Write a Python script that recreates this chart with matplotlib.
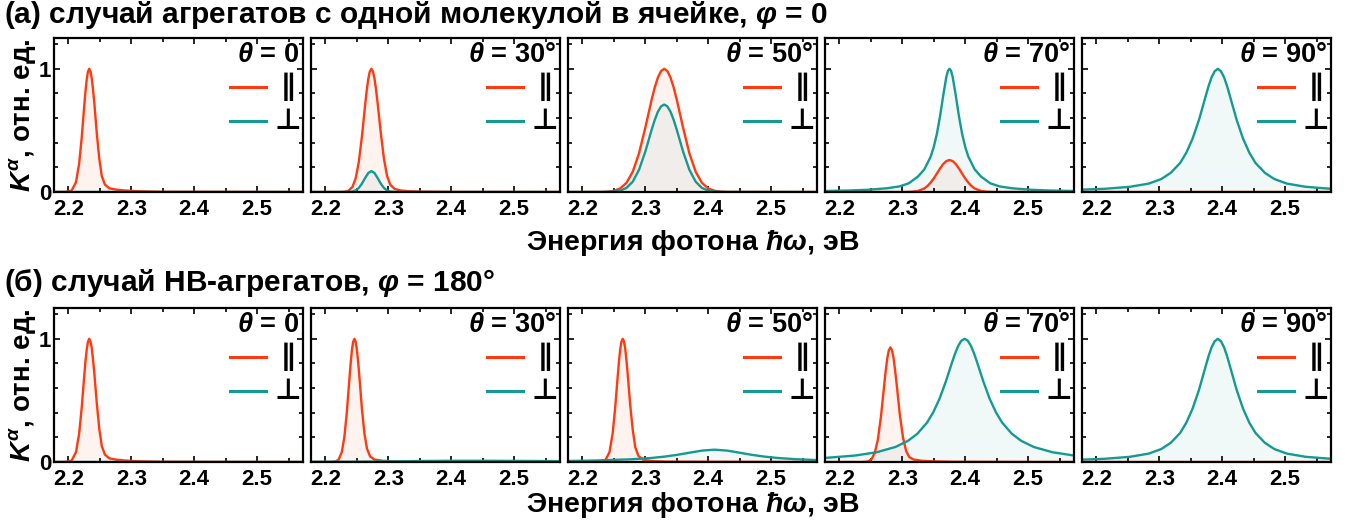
import matplotlib
matplotlib.use("Agg")
import matplotlib.pyplot as plt
from matplotlib.ticker import MultipleLocator, FixedLocator

# Fonts: bold Arial-like text, bold-italic greek symbols through mathtext
plt.rcParams['font.family'] = ['Liberation Sans', 'DejaVu Sans']
plt.rcParams['font.weight'] = 'bold'
plt.rcParams['mathtext.fontset'] = 'custom'
plt.rcParams['mathtext.rm'] = 'Liberation Sans:bold'
plt.rcParams['mathtext.it'] = 'Liberation Sans:bold:italic'
plt.rcParams['mathtext.bf'] = 'Liberation Sans:bold'

PAR_COLOR = '#ff3a10'
PERP_COLOR = '#159a92'

# Panel labels and row headers
theta_labels = ['0', '30°', '50°', '70°', '90°']
row_titles = [r'(a) случай агрегатов с одной молекулой в ячейке, $\varphi$ = 0',
              r'(б) случай НВ-агрегатов, $\varphi$ = 180°']

# Spectra K(E), E in eV. Flat zero spectra:
E_zero = [2.177, 2.573]
K_zero = [0.0, 0.0]

# theta = 0, parallel (same for both aggregate types)
E_t0_par = [2.177, 2.195, 2.205, 2.212, 2.217, 2.221, 2.225, 2.227, 2.229, 2.231, 2.233, 2.235,
            2.237, 2.239, 2.241, 2.245, 2.249, 2.253, 2.258, 2.265, 2.275, 2.29, 2.31, 2.35, 2.573]
K_t0_par = [0.0, 0.001, 0.011, 0.080, 0.231, 0.438, 0.693, 0.814, 0.912, 0.977, 1.0, 0.98,
            0.925, 0.835, 0.73, 0.48, 0.27, 0.13, 0.06, 0.03, 0.02, 0.012, 0.006, 0.002, 0.0]

# (a) theta = 30
E_a30_par = [2.177, 2.22, 2.228, 2.236, 2.243, 2.248, 2.253, 2.258, 2.263, 2.2655, 2.268, 2.2705,
             2.273, 2.2755, 2.278, 2.2805, 2.283, 2.288, 2.293, 2.298, 2.303, 2.31, 2.32, 2.333,
             2.353, 2.40, 2.573]
K_a30_par = [0.0, 0.0, 0.0008, 0.008, 0.042, 0.110, 0.243, 0.451, 0.702, 0.82, 0.915, 0.978,
             1.0, 0.98, 0.92, 0.83, 0.72, 0.48, 0.27, 0.13, 0.06, 0.025, 0.012, 0.006,
             0.003, 0.001, 0.0]
E_a30_perp = [2.177, 2.233, 2.243, 2.248, 2.253, 2.258, 2.263, 2.268, 2.273, 2.278, 2.283,
              2.288, 2.293, 2.298, 2.303, 2.313, 2.573]
K_a30_perp = [0.0, 0.0, 0.004, 0.013, 0.033, 0.068, 0.113, 0.154, 0.17, 0.154, 0.113,
              0.068, 0.033, 0.013, 0.004, 0.0, 0.0]

# (a) theta = 50
E_a50 = [2.177, 2.23, 2.24, 2.25, 2.26, 2.27, 2.28, 2.29, 2.30, 2.31, 2.315, 2.32, 2.325, 2.33,
         2.335, 2.34, 2.345, 2.35, 2.36, 2.37, 2.38, 2.39, 2.40, 2.41, 2.42, 2.43, 2.573]
K_a50_par = [0.0, 0.0007, 0.0029, 0.0099, 0.029, 0.0745, 0.165, 0.315, 0.523, 0.749, 0.850,
             0.930, 0.982, 1.0, 0.982, 0.930, 0.850, 0.749, 0.523, 0.315, 0.165, 0.0745,
             0.029, 0.0099, 0.0029, 0.0007, 0.0]
K_a50_perp = [0.0, 0.0, 0.001, 0.003, 0.011, 0.033, 0.084, 0.181, 0.329, 0.505, 0.586,
              0.652, 0.695, 0.71, 0.695, 0.652, 0.586, 0.505, 0.329, 0.181, 0.084, 0.033,
              0.011, 0.003, 0.001, 0.0, 0.0]

# (a) theta = 70
E_a70_par = [2.177, 2.305, 2.315, 2.325, 2.335, 2.34, 2.345, 2.35, 2.355, 2.36, 2.365, 2.37,
             2.375, 2.38, 2.385, 2.39, 2.395, 2.40, 2.405, 2.41, 2.415, 2.425, 2.435, 2.445, 2.573]
K_a70_par = [0.0, 0.0, 0.0019, 0.0085, 0.029, 0.049, 0.076, 0.110, 0.150, 0.191, 0.227, 0.251,
             0.26, 0.251, 0.227, 0.191, 0.150, 0.110, 0.076, 0.049, 0.029, 0.0085, 0.0019, 0.0, 0.0]
E_a70_perp = [2.177, 2.215, 2.245, 2.275, 2.295, 2.31, 2.325, 2.335, 2.345, 2.35, 2.355, 2.36,
              2.365, 2.37, 2.3725, 2.375, 2.3775, 2.38, 2.385, 2.39, 2.395, 2.40, 2.405, 2.415,
              2.425, 2.44, 2.455, 2.475, 2.505, 2.535, 2.573]
K_a70_perp = [0.008, 0.012, 0.018, 0.03, 0.045, 0.07, 0.126, 0.184, 0.286, 0.366, 0.474, 0.616,
              0.783, 0.935, 0.983, 1.0, 0.983, 0.935, 0.783, 0.616, 0.474, 0.366, 0.286, 0.184,
              0.126, 0.07, 0.045, 0.03, 0.018, 0.012, 0.008]

# theta = 90, perpendicular (same for both aggregate types)
E_t90_perp = [2.177, 2.213, 2.253, 2.283, 2.303, 2.318, 2.333, 2.343, 2.353, 2.363, 2.368, 2.373,
              2.378, 2.383, 2.388, 2.393, 2.398, 2.403, 2.408, 2.413, 2.418, 2.423, 2.433, 2.443,
              2.453, 2.468, 2.483, 2.503, 2.533, 2.573]
K_t90_perp = [0.019, 0.026, 0.042, 0.068, 0.105, 0.155, 0.235, 0.32, 0.435, 0.585, 0.675, 0.765,
              0.855, 0.93, 0.98, 1.0, 0.98, 0.93, 0.855, 0.765, 0.675, 0.585, 0.435, 0.32,
              0.235, 0.155, 0.105, 0.068, 0.042, 0.026]

# (б) theta = 30
E_b30_par = [2.177, 2.21, 2.216, 2.221, 2.226, 2.230, 2.234, 2.236, 2.238, 2.240, 2.242, 2.244,
             2.246, 2.248, 2.25, 2.252, 2.254, 2.258, 2.262, 2.266, 2.271, 2.278, 2.291, 2.311,
             2.346, 2.573]
K_b30_par = [0.0, 0.0, 0.0035, 0.0197, 0.081, 0.2, 0.404, 0.54, 0.669, 0.797, 0.904, 0.975,
             1.0, 0.977, 0.91, 0.81, 0.69, 0.43, 0.23, 0.11, 0.045, 0.02, 0.01, 0.005,
             0.002, 0.0]
E_b30_perp = [2.177, 2.25, 2.30, 2.35, 2.40, 2.45, 2.50, 2.573]
K_b30_perp = [0.002, 0.003, 0.005, 0.008, 0.01, 0.01, 0.009, 0.007]

# (б) theta = 50
E_b50_par = [2.177, 2.225, 2.236, 2.243, 2.248, 2.252, 2.256, 2.258, 2.26, 2.262, 2.264, 2.266,
             2.268, 2.270, 2.272, 2.276, 2.28, 2.284, 2.289, 2.296, 2.309, 2.334, 2.573]
K_b50_par = [0.0, 0.0, 0.011, 0.080, 0.231, 0.438, 0.693, 0.814, 0.912, 0.977, 1.0, 0.98,
             0.92, 0.825, 0.71, 0.46, 0.26, 0.12, 0.05, 0.02, 0.008, 0.003, 0.0]
E_b50_perp = [2.177, 2.22, 2.28, 2.31, 2.33, 2.35, 2.37, 2.39, 2.41, 2.43, 2.45, 2.47, 2.49,
              2.51, 2.54, 2.573]
K_b50_perp = [0.0083, 0.0119, 0.0225, 0.0329, 0.0434, 0.0576, 0.0754, 0.0925, 0.1, 0.0925,
              0.0754, 0.0576, 0.0434, 0.0329, 0.0225, 0.0156]

# (б) theta = 70
E_b70_par = [2.177, 2.235, 2.241, 2.246, 2.251, 2.256, 2.261, 2.266, 2.271, 2.2735, 2.276,
             2.2785, 2.281, 2.2835, 2.286, 2.2885, 2.291, 2.296, 2.301, 2.306, 2.311, 2.318,
             2.331, 2.351, 2.381, 2.573]
K_b70_par = [0.0, 0.0, 0.001, 0.006, 0.023, 0.072, 0.180, 0.369, 0.618, 0.738, 0.840, 0.907,
             0.93, 0.908, 0.845, 0.745, 0.63, 0.385, 0.20, 0.09, 0.04, 0.02, 0.01, 0.005,
             0.002, 0.0]
E_b70_perp = [2.177, 2.225, 2.259, 2.289, 2.309, 2.324, 2.339, 2.349, 2.359, 2.369, 2.374, 2.379,
              2.384, 2.389, 2.394, 2.399, 2.404, 2.409, 2.414, 2.419, 2.424, 2.429, 2.439, 2.449,
              2.459, 2.474, 2.489, 2.509, 2.539, 2.573]
K_b70_perp = [0.033, 0.0526, 0.079, 0.122, 0.172, 0.230, 0.318, 0.402, 0.512, 0.651, 0.729, 0.808,
              0.882, 0.944, 0.985, 1.0, 0.985, 0.944, 0.882, 0.808, 0.729, 0.651, 0.512, 0.402,
              0.318, 0.230, 0.172, 0.122, 0.079, 0.0526]

# Each panel: ((E_par, K_par), (E_perp, K_perp))
rows = [
    [((E_t0_par, K_t0_par), (E_zero, K_zero)),
     ((E_a30_par, K_a30_par), (E_a30_perp, K_a30_perp)),
     ((E_a50, K_a50_par), (E_a50, K_a50_perp)),
     ((E_a70_par, K_a70_par), (E_a70_perp, K_a70_perp)),
     ((E_zero, K_zero), (E_t90_perp, K_t90_perp))],
    [((E_t0_par, K_t0_par), (E_zero, K_zero)),
     ((E_b30_par, K_b30_par), (E_b30_perp, K_b30_perp)),
     ((E_b50_par, K_b50_par), (E_b50_perp, K_b50_perp)),
     ((E_b70_par, K_b70_par), (E_b70_perp, K_b70_perp)),
     ((E_zero, K_zero), (E_t90_perp, K_t90_perp))],
]

W, H = 1359, 531
fig = plt.figure(figsize=(W / 100, H / 100), dpi=100)

panel_left = 54
panel_w = 249
panel_step = 257
panel_h = 154
row_top = [38, 308]
title_y = [15, 283]
xlabel_y = [243, 505]
panels_center = (panel_left + 4 * panel_step + panel_w + panel_left) / 2

for r, panels in enumerate(rows):
    fig.text(4 / W, 1 - title_y[r] / H, row_titles[r], fontsize=21.5, fontweight='bold',
             ha='left', va='center')
    fig.text(panels_center / W, 1 - xlabel_y[r] / H, r'Энергия фотона $\hbar\omega$, эВ',
             fontsize=20.5, fontweight='bold', ha='center', va='center')
    for i, (par, perp) in enumerate(panels):
        left = (panel_left + i * panel_step) / W
        bottom = 1 - (row_top[r] + panel_h) / H
        ax = fig.add_axes([left, bottom, panel_w / W, panel_h / H])

        ax.fill_between(par[0], par[1], 0, color=PAR_COLOR, alpha=0.06, lw=0, zorder=1)
        ax.fill_between(perp[0], perp[1], 0, color=PERP_COLOR, alpha=0.06, lw=0, zorder=1)
        ax.plot(par[0], par[1], color=PAR_COLOR, lw=1.7, zorder=2)
        ax.plot(perp[0], perp[1], color=PERP_COLOR, lw=1.7, zorder=2)

        ax.set_xlim(2.177, 2.573)
        ax.set_ylim(0, 1.25)
        ax.xaxis.set_major_locator(MultipleLocator(0.1))
        ax.xaxis.set_minor_locator(MultipleLocator(0.05))
        ax.yaxis.set_major_locator(FixedLocator([0, 1]))
        ax.yaxis.set_minor_locator(MultipleLocator(0.2))
        ax.tick_params(which='both', direction='in', top=True, right=True, width=1.2,
                       labelsize=16)
        ax.tick_params(which='major', length=4)
        ax.tick_params(which='minor', length=3)
        ax.tick_params(axis='x', pad=5)
        ax.tick_params(axis='y', pad=2, labelleft=(i == 0))
        for lab in ax.get_xticklabels() + ax.get_yticklabels():
            lab.set_fontweight('bold')
        for sp in ax.spines.values():
            sp.set_linewidth(1.6)

        # angle label and legend keys
        ax.text(0.984, 0.89, r'$\theta$ = ' + theta_labels[i], transform=ax.transAxes,
                fontsize=19.5, fontweight='bold', ha='right', va='center')
        ax.plot([0.707, 0.851], [0.682, 0.682], color=PAR_COLOR, lw=2.2,
                transform=ax.transAxes, clip_on=False)
        ax.plot([0.707, 0.851], [0.461, 0.461], color=PERP_COLOR, lw=2.2,
                transform=ax.transAxes, clip_on=False)
        ax.text(0.94, 0.682, '∥', transform=ax.transAxes, fontsize=21, fontweight='bold',
                family='DejaVu Sans', ha='center', va='center')
        ax.text(0.94, 0.461, '⊥', transform=ax.transAxes, fontsize=21, fontweight='bold',
                family='DejaVu Sans', ha='center', va='center')

        if i == 0:
            ax.set_ylabel(r'$K^{\alpha}$, отн. ед.', fontsize=20, fontweight='bold')
            ax.yaxis.set_label_coords(-0.064, 0.5)

fig.savefig('out.png', dpi=100)
